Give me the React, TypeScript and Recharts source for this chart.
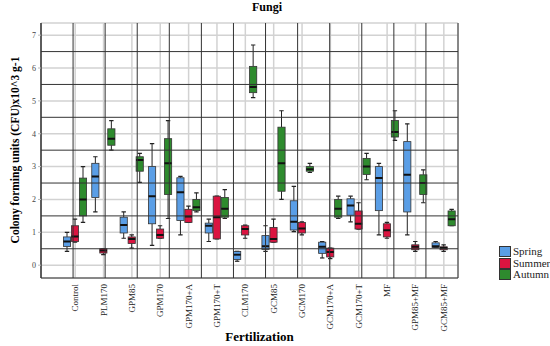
import React from 'react';
import { BarChart, Bar, XAxis, YAxis, CartesianGrid, ReferenceLine } from 'recharts';

// ---- data ----
const categories = ['Control', 'PLM170', 'GPM85', 'GPM170', 'GPM170+A', 'GPM170+T', 'CLM170', 'GCM85', 'GCM170', 'GCM170+A', 'GCM170+T', 'MF', 'GPM85+MF', 'GCM85+MF'];

// [min, q1, median, q3, max]
const spring = [
  [0.42, 0.57, 0.72, 0.86, 1.0],
  [1.62, 2.06, 2.7, 3.1, 3.3],
  [0.82, 0.98, 1.22, 1.46, 1.62],
  [0.6, 1.26, 2.1, 3.0, 3.7],
  [0.92, 1.36, 2.22, 2.66, 2.7],
  [0.72, 0.98, 1.2, 1.28, 1.4],
  [0.12, 0.17, 0.32, 0.42, 0.42],
  [0.42, 0.48, 0.58, 0.9, 1.2],
  [1.02, 1.07, 1.32, 1.96, 2.4],
  [0.22, 0.36, 0.56, 0.7, 0.72],
  [1.32, 1.52, 1.82, 2.02, 2.1],
  [0.92, 1.66, 2.65, 3.0, 3.1],
  [0.92, 1.62, 2.75, 3.76, 4.3],
  [0.54, 0.54, 0.58, 0.68, 0.72],
];
const summer = [
  [0.7, 0.72, 0.87, 1.2, 1.4],
  [0.32, 0.37, 0.45, 0.5, 0.5],
  [0.52, 0.66, 0.8, 0.86, 0.92],
  [0.82, 0.82, 0.92, 1.1, 1.2],
  [1.3, 1.3, 1.48, 1.7, 1.8],
  [0.8, 0.8, 1.46, 2.1, 2.1],
  [0.82, 0.92, 1.1, 1.2, 1.22],
  [0.7, 0.7, 0.8, 1.15, 1.4],
  [0.92, 0.98, 1.12, 1.3, 1.32],
  [0.2, 0.25, 0.4, 0.52, 0.52],
  [1.1, 1.1, 1.26, 1.65, 1.9],
  [0.82, 0.86, 1.06, 1.26, 1.3],
  [0.42, 0.47, 0.56, 0.62, 0.72],
  [0.42, 0.47, 0.52, 0.56, 0.62],
];
const autumn = [
  [1.3, 1.5, 2.0, 2.65, 3.0],
  [3.5, 3.65, 3.85, 4.15, 4.4],
  [2.52, 2.86, 3.2, 3.3, 3.4],
  [1.42, 2.15, 3.1, 3.85, 4.4],
  [1.62, 1.66, 1.76, 2.0, 2.2],
  [1.42, 1.46, 1.72, 2.06, 2.3],
  [5.1, 5.25, 5.42, 6.05, 6.7],
  [2.0, 2.25, 3.1, 4.2, 4.7],
  [2.82, 2.86, 2.92, 3.0, 3.1],
  [1.42, 1.46, 1.72, 2.0, 2.1],
  [2.6, 2.76, 3.0, 3.25, 3.4],
  [3.8, 3.9, 4.05, 4.4, 4.7],
  [1.9, 2.15, 2.5, 2.75, 2.9],
  [1.2, 1.2, 1.4, 1.65, 1.7],
];
const seasons = ['Spring', 'Summer', 'Autumn'];
const yTicks = [0, 1, 2, 3, 4, 5, 6, 7];
const yHalfLines = [0.5, 1.5, 2.5, 3.5, 4.5, 5.5, 6.5];

const COLORS: Record<string, string> = { Spring: '#5A9EE6', Summer: '#DA1440', Autumn: '#2E8B2E' };

const table = categories.map((name, i) => ({
  name,
  SpringStats: spring[i],
  SummerStats: summer[i],
  AutumnStats: autumn[i],
  SpringBox: [spring[i][1], spring[i][3]],
  SummerBox: [summer[i][1], summer[i][3]],
  AutumnBox: [autumn[i][1], autumn[i][3]],
}));
const boundaries = categories.map((_, i) => i).concat([categories.length]);

const FONT = '"Liberation Serif", "DejaVu Serif", serif';

const makeBox = (season: string) => (props: any) => {
  const { x, y, width, height, payload } = props;
  const s: number[] = payload[season + 'Stats'];
  const top = Math.min(y, y + height);
  const h = Math.abs(height);
  const k = h / (s[3] - s[1]);
  const py = (v: number) => top + (s[3] - v) * k;
  const cx = x + width / 2;
  const cap = 2.2;
  return (
    <g>
      <line x1={cx} x2={cx} y1={py(s[4])} y2={py(s[3])} stroke="#222" strokeWidth={1} />
      <line x1={cx} x2={cx} y1={py(s[1])} y2={py(s[0])} stroke="#222" strokeWidth={1} />
      <line x1={cx - cap} x2={cx + cap} y1={py(s[4])} y2={py(s[4])} stroke="#222" strokeWidth={1.2} />
      <line x1={cx - cap} x2={cx + cap} y1={py(s[0])} y2={py(s[0])} stroke="#222" strokeWidth={1.2} />
      <rect x={x + 0.4} y={top} width={width - 0.8} height={h} fill={COLORS[season]} stroke="#333" strokeWidth={0.8} />
      <line x1={x + 0.4} x2={x + width - 0.4} y1={py(s[2])} y2={py(s[2])} stroke="#111" strokeWidth={2} />
    </g>
  );
};

const XTick = (props: any) => {
  const { x, y, payload } = props;
  return (
    <text x={x} y={y} transform={`rotate(-90, ${x}, ${y})`} textAnchor="end" dy="0.33em" fontSize={9} fontFamily={FONT} fill="#222">
      {payload.value}
    </text>
  );
};

export default function App() {
  return (
    <div style={{ position: 'absolute', left: 0, top: 0, width: 550, height: 346, background: '#fff', fontFamily: FONT }}>
      <div style={{ position: 'absolute', left: 0, width: 534, top: 0, textAlign: 'center', fontWeight: 'bold', fontSize: 12, lineHeight: '14px' }}>Fungi</div>
      <div style={{ position: 'absolute', left: 0, width: 519, top: 329, textAlign: 'center', fontWeight: 'bold', fontSize: 13, lineHeight: '16px' }}>Fertilization</div>
      <div style={{ position: 'absolute', left: 15, top: 150, width: 0, height: 0 }}>
        <div style={{ position: 'absolute', transform: 'translate(-50%, -50%) rotate(-90deg)', whiteSpace: 'nowrap', fontWeight: 'bold', fontSize: 11.5 }}>
          Colony forming units (CFU)x10^3 g-1
        </div>
      </div>
      <div style={{ position: 'absolute', left: 499, top: 246 }}>
        {seasons.map((s) => (
          <div key={s} style={{ display: 'flex', alignItems: 'center', height: 11.5, fontSize: 11, lineHeight: '11px' }}>
            <span style={{ display: 'inline-block', width: 10, height: 9, background: COLORS[s], border: '1px solid #333', marginRight: 2 }} />
            <span style={{ color: '#222' }}>{s}</span>
          </div>
        ))}
      </div>
      <BarChart width={550} height={346} data={table} margin={{ top: 23, right: 92, bottom: 18, left: 5 }} barGap={0} barSize={8}>
        <CartesianGrid stroke="#d2d2d2" strokeWidth={1.5} />
        <XAxis dataKey="name" interval={0} padding={{ left: 20, right: 0 }} height={50} tick={<XTick />} tickLine={false} tickSize={4} axisLine={{ stroke: '#333', strokeWidth: 1 }} />
        <XAxis xAxisId="n" type="number" domain={[-20 / 28.32, 14]} hide allowDataOverflow />
        <YAxis domain={[-0.39, 7.37]} ticks={yTicks} allowDataOverflow width={36} tickSize={3} tickLine={{ stroke: '#bbb' }} axisLine={{ stroke: '#333', strokeWidth: 1 }} tick={{ fontSize: 8, fill: '#444', fontFamily: FONT }} />
        {yHalfLines.map((v) => (
          <ReferenceLine key={'h' + v} y={v} stroke="#333" strokeWidth={1} />
        ))}
        {boundaries.map((b) => (
          <ReferenceLine key={'v' + b} x={b} xAxisId="n" stroke="#333" strokeWidth={1} />
        ))}
        {seasons.map((s) => (
          <Bar key={s} dataKey={s + 'Box'} fill={COLORS[s]} shape={makeBox(s)} isAnimationActive={false} />
        ))}
      </BarChart>
    </div>
  );
}
